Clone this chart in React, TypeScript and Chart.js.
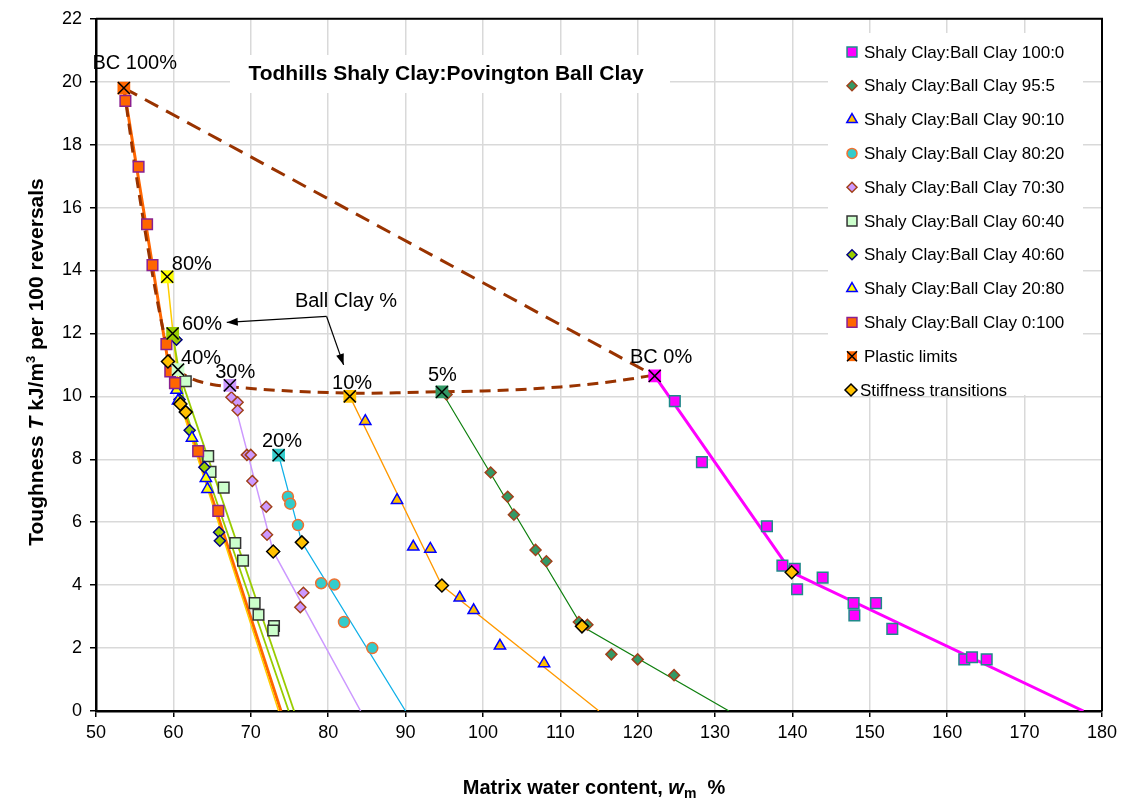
import React, { useEffect, useRef } from 'react';
import { Chart, registerables } from 'chart.js';
Chart.register(...registerables);

const FONT = '"Liberation Sans", Arial, Helvetica, sans-serif';

// ---- axes ----
const X_MIN = 50, X_MAX = 180, X_STEP = 10;
const Y_MIN = 0, Y_MAX = 22, Y_STEP = 2;

// ---- measured series (matrix water content %, toughness) ----
const sc100_0_x = [124.8, 128.3, 136.7, 138.7, 140.3, 140.6, 143.9, 147.9, 148.0, 150.8, 152.9, 162.2, 163.2, 165.1];
const sc100_0_y = [9.85, 7.91, 5.87, 4.62, 4.52, 3.87, 4.24, 3.43, 3.04, 3.43, 2.61, 1.64, 1.71, 1.64];

const sc95_5_x = [95.3, 101.0, 103.2, 104.0, 106.8, 108.2, 112.4, 113.5, 116.6, 120.0, 124.7];
const sc95_5_y = [10.06, 7.58, 6.81, 6.24, 5.12, 4.76, 2.83, 2.74, 1.80, 1.64, 1.14];

const sc90_10_x = [84.8, 88.9, 91.0, 93.2, 97.0, 98.8, 102.2, 107.9];
const sc90_10_y = [9.21, 6.70, 5.22, 5.15, 3.60, 3.20, 2.07, 1.51];

const sc80_20_x = [74.8, 75.1, 76.1, 79.1, 80.8, 82.05, 85.7];
const sc80_20_y = [6.81, 6.59, 5.91, 4.06, 4.02, 2.83, 2.00];

const sc70_30_x = [67.5, 68.3, 68.3, 69.5, 70.0, 70.2, 72.0, 72.1, 76.8, 76.4];
const sc70_30_y = [9.97, 9.81, 9.56, 8.14, 8.14, 7.31, 6.49, 5.60, 3.76, 3.30];

const sc60_40_x = [61.6, 64.5, 64.8, 66.5, 68.0, 69.0, 70.5, 71.0, 73.0, 72.9];
const sc60_40_y = [10.48, 8.10, 7.60, 7.10, 5.34, 4.78, 3.43, 3.06, 2.70, 2.56];

const sc40_60_x = [60.4, 60.8, 62.1, 64.0, 65.9, 66.0];
const sc40_60_y = [11.8, 9.9, 8.92, 7.75, 5.68, 5.41];

const sc20_80_x = [60.4, 60.6, 62.4, 64.2, 64.4];
const sc20_80_y = [10.2, 9.86, 8.68, 7.4, 7.05];

const sc0_100_x = [53.8, 55.5, 56.6, 57.3, 59.1, 59.6, 60.2, 63.2, 65.8];
const sc0_100_y = [19.39, 17.3, 15.47, 14.17, 11.66, 10.79, 10.42, 8.26, 6.36];

// plastic limits
const pl_x = [53.6, 59.2, 59.9, 60.6, 67.3, 73.6, 82.8, 94.7, 122.2];
const pl_y = [19.8, 13.8, 12.0, 10.85, 10.35, 8.13, 10.0, 10.14, 10.65];
const pl_labels = ['BC 100%', '80%', '60%', '40%', '30%', '20%', '10%', '5%', 'BC 0%'];

// stiffness transitions
const st_x = [59.3, 60.9, 61.6, 72.9, 76.6, 94.7, 112.8, 139.9];
const st_y = [11.11, 9.76, 9.50, 5.07, 5.36, 3.99, 2.69, 4.41];

// fitted lines (plastic limit -> transition -> zero toughness)
const fit100_0_x = [122.2, 139.9, 177.6]; const fit100_0_y = [10.65, 4.41, 0];
const fit95_5_x = [94.7, 112.8, 131.8]; const fit95_5_y = [10.14, 2.69, 0];
const fit90_10_x = [82.8, 94.7, 115.0]; const fit90_10_y = [10.0, 3.99, 0];
const fit80_20_x = [73.6, 76.6, 90.0]; const fit80_20_y = [8.13, 5.36, 0];
const fit70_30_x = [67.3, 72.9, 84.2]; const fit70_30_y = [10.35, 5.07, 0];
const fit60_40_x = [60.6, 75.6]; const fit60_40_y = [10.85, 0];
const fit40_60_x = [59.9, 61.6, 74.9]; const fit40_60_y = [12.0, 9.5, 0];
const fit20_80_x = [59.2, 60.9, 73.6]; const fit20_80_y = [13.8, 9.76, 0];
const fit0_100_x = [53.6, 59.3, 73.9]; const fit0_100_y = [19.8, 11.11, 0];

// plastic limit trend lines
const plLine_x = [53.6, 122.2]; const plLine_y = [19.8, 10.65];
const plCurve_x = [53.6, 55.1, 57.0, 58.6, 59.6, 60.8, 62.5, 65, 70, 75, 80, 85, 90, 95, 100, 105, 110, 115, 119, 122.2];
const plCurve_y = [19.8, 17.2, 14.3, 12.2, 11.2, 10.8, 10.55, 10.38, 10.25, 10.17, 10.12, 10.1, 10.12, 10.15, 10.17, 10.22, 10.3, 10.42, 10.55, 10.68];

const TITLE = 'Todhills Shaly Clay:Povington Ball Clay';
const LEGEND_PL = 'Plastic limits';
const LEGEND_ST = 'Stiffness transitions';
const ANNOT = 'Ball Clay %';

const zip = (xs: number[], ys: number[]) => xs.map((x, i) => ({ x, y: ys[i] }));

type Sty = { label: string; xs: number[]; ys: number[]; fx: number[]; fy: number[]; shape: string; r: number; bg: string; bd: string; line: string; lw: number };

const SERIES: Sty[] = [
  { label: 'Shaly Clay:Ball Clay 100:0', xs: sc100_0_x, ys: sc100_0_y, fx: fit100_0_x, fy: fit100_0_y, shape: 'rect', r: 7.5, bg: '#ff00ff', bd: '#1f8a8a', line: '#ff00ff', lw: 3 },
  { label: 'Shaly Clay:Ball Clay 95:5', xs: sc95_5_x, ys: sc95_5_y, fx: fit95_5_x, fy: fit95_5_y, shape: 'rectRot', r: 5.5, bg: '#339966', bd: '#a0401a', line: '#108010', lw: 1.2 },
  { label: 'Shaly Clay:Ball Clay 90:10', xs: sc90_10_x, ys: sc90_10_y, fx: fit90_10_x, fy: fit90_10_y, shape: 'triangle', r: 6.5, bg: '#ffc000', bd: '#0000ff', line: '#ff9900', lw: 1.3 },
  { label: 'Shaly Clay:Ball Clay 80:20', xs: sc80_20_x, ys: sc80_20_y, fx: fit80_20_x, fy: fit80_20_y, shape: 'circle', r: 5.5, bg: '#33cccc', bd: '#f07030', line: '#10b0e8', lw: 1.3 },
  { label: 'Shaly Clay:Ball Clay 70:30', xs: sc70_30_x, ys: sc70_30_y, fx: fit70_30_x, fy: fit70_30_y, shape: 'rectRot', r: 5.5, bg: '#cc99ff', bd: '#a0401a', line: '#cc99ff', lw: 1.5 },
  { label: 'Shaly Clay:Ball Clay 60:40', xs: sc60_40_x, ys: sc60_40_y, fx: fit60_40_x, fy: fit60_40_y, shape: 'rect', r: 7.5, bg: '#ccffcc', bd: '#333333', line: '#99cc00', lw: 1.8 },
  { label: 'Shaly Clay:Ball Clay 40:60', xs: sc40_60_x, ys: sc40_60_y, fx: fit40_60_x, fy: fit40_60_y, shape: 'rectRot', r: 5.5, bg: '#99cc00', bd: '#000080', line: '#99cc00', lw: 1.8 },
  { label: 'Shaly Clay:Ball Clay 20:80', xs: sc20_80_x, ys: sc20_80_y, fx: fit20_80_x, fy: fit20_80_y, shape: 'triangle', r: 6.5, bg: '#ffff00', bd: '#0000ff', line: '#ffcc00', lw: 1.5 },
  { label: 'Shaly Clay:Ball Clay 0:100', xs: sc0_100_x, ys: sc0_100_y, fx: fit0_100_x, fy: fit0_100_y, shape: 'rect', r: 7.5, bg: '#ff6600', bd: '#8a2090', line: '#ff6600', lw: 3 },
];

const PL_COLORS = ['#ff6600', '#ffff00', '#99cc00', '#ccffcc', '#cc99ff', '#33cccc', '#ffc000', '#339966', '#ff00ff'];

// label anchors in data units (left edge / centre, middle)
const LBL_X = [55.0, 59.8, 61.1, 61.0, 65.4, 71.45, 80.5, 92.9, 119.0];
const LBL_Y = [20.58, 14.2, 12.3, 11.2, 10.76, 8.58, 10.42, 10.67, 11.24];
const LBL_ALIGN = ['center', 'left', 'left', 'left', 'left', 'left', 'left', 'left', 'left'];

function shapePath(ctx: CanvasRenderingContext2D, shape: string, x: number, y: number, r: number) {
  ctx.beginPath();
  if (shape === 'rect') {
    const s = r * Math.SQRT1_2;
    ctx.rect(x - s, y - s, 2 * s, 2 * s);
  } else if (shape === 'rectRot') {
    ctx.moveTo(x - r, y); ctx.lineTo(x, y - r); ctx.lineTo(x + r, y); ctx.lineTo(x, y + r); ctx.closePath();
  } else if (shape === 'triangle') {
    for (let k = 0; k < 3; k++) {
      const a = k * 2 * Math.PI / 3;
      const px = x + Math.sin(a) * r, py = y - Math.cos(a) * r;
      if (k === 0) ctx.moveTo(px, py); else ctx.lineTo(px, py);
    }
    ctx.closePath();
  } else {
    ctx.arc(x, y, r, 0, Math.PI * 2);
  }
}

function drawMarker(ctx: CanvasRenderingContext2D, shape: string, x: number, y: number, r: number, bg: string, bd: string, bw: number) {
  shapePath(ctx, shape, x, y, r);
  ctx.fillStyle = bg; ctx.fill();
  if (bw > 0) { ctx.lineWidth = bw; ctx.strokeStyle = bd; ctx.stroke(); }
}

function drawRuns(ctx: CanvasRenderingContext2D, runs: { t: string; f: string; dy?: number }[], cx: number, by: number) {
  let total = 0;
  const ws = runs.map(r => { ctx.font = r.f; const w = ctx.measureText(r.t).width; total += w; return w; });
  let x = cx - total / 2;
  ctx.textAlign = 'left'; ctx.textBaseline = 'alphabetic';
  runs.forEach((r, i) => { ctx.font = r.f; ctx.fillText(r.t, x, by + (r.dy || 0)); x += ws[i]; });
}

function arrowTo(ctx: CanvasRenderingContext2D, x1: number, y1: number, x2: number, y2: number) {
  ctx.beginPath(); ctx.moveTo(x1, y1); ctx.lineTo(x2, y2); ctx.stroke();
  const a = Math.atan2(y2 - y1, x2 - x1), L = 11, W = 4;
  ctx.beginPath();
  ctx.moveTo(x2, y2);
  ctx.lineTo(x2 - L * Math.cos(a) + W * Math.sin(a), y2 - L * Math.sin(a) - W * Math.cos(a));
  ctx.lineTo(x2 - L * Math.cos(a) - W * Math.sin(a), y2 - L * Math.sin(a) + W * Math.cos(a));
  ctx.closePath(); ctx.fill();
}

const overlay = {
  id: 'overlay',
  beforeDatasetsDraw(chart: any) {
    const ctx = chart.ctx as CanvasRenderingContext2D;
    ctx.save();
    ctx.fillStyle = '#ffffff';
    ctx.fillRect(230, 55, 440, 38);   // title background
    ctx.fillRect(828, 33, 255, 362);  // legend background
    ctx.restore();
  },
  afterDatasetsDraw(chart: any) {
    const ctx = chart.ctx as CanvasRenderingContext2D;
    const xs = chart.scales.x, ys = chart.scales.y;
    const a = chart.chartArea;
    ctx.save();
    // frame top/right
    ctx.strokeStyle = '#000'; ctx.lineWidth = 2;
    ctx.beginPath(); ctx.moveTo(a.left, a.top); ctx.lineTo(a.right, a.top); ctx.lineTo(a.right, a.bottom); ctx.stroke();

    // title
    ctx.fillStyle = '#000';
    ctx.font = `bold 21px ${FONT}`; ctx.textAlign = 'center'; ctx.textBaseline = 'middle';
    ctx.fillText(TITLE, 446, 74);

    // point labels
    ctx.font = `20px ${FONT}`;
    pl_labels.forEach((t, i) => {
      ctx.textAlign = LBL_ALIGN[i] as CanvasTextAlign;
      ctx.fillText(t, xs.getPixelForValue(LBL_X[i]), ys.getPixelForValue(LBL_Y[i]));
    });
    ctx.textAlign = 'left';
    ctx.fillText(ANNOT, xs.getPixelForValue(75.7), ys.getPixelForValue(13.0));

    // arrows
    ctx.strokeStyle = '#000'; ctx.fillStyle = '#000'; ctx.lineWidth = 1.2;
    const ox = xs.getPixelForValue(79.8), oy = ys.getPixelForValue(12.54);
    arrowTo(ctx, ox, oy, xs.getPixelForValue(66.9), ys.getPixelForValue(12.35));
    arrowTo(ctx, ox, oy, xs.getPixelForValue(82.0), ys.getPixelForValue(11.0));

    // legend
    const lx = 852, tx = 864, ly0 = 52, dy = 33.8;
    ctx.font = `17px ${FONT}`; ctx.textBaseline = 'middle'; ctx.textAlign = 'left';
    SERIES.forEach((s, i) => {
      const y = ly0 + i * dy;
      drawMarker(ctx, s.shape, lx, y, s.shape === 'rect' ? 7 : s.shape === 'triangle' ? 6 : 5, s.bg, s.bd, 1.5);
      ctx.fillStyle = '#000';
      ctx.fillText(s.label, tx, y + 1);
    });
    let y = ly0 + 9 * dy;
    drawMarker(ctx, 'rect', lx, y, 7, '#ff6600', '#ff6600', 0);
    ctx.strokeStyle = '#000'; ctx.lineWidth = 1.5;
    ctx.beginPath(); ctx.moveTo(lx - 5, y - 5); ctx.lineTo(lx + 5, y + 5); ctx.moveTo(lx + 5, y - 5); ctx.lineTo(lx - 5, y + 5); ctx.stroke();
    ctx.fillStyle = '#000'; ctx.fillText(LEGEND_PL, tx, y + 1);
    y = ly0 + 10 * dy;
    drawMarker(ctx, 'rectRot', lx - 1, y, 6, '#ffc000', '#000', 1.5);
    ctx.fillStyle = '#000'; ctx.fillText(LEGEND_ST, tx - 4, y + 1);
    ctx.restore();
  },
  afterDraw(chart: any) {
    const ctx = chart.ctx as CanvasRenderingContext2D;
    ctx.save();
    ctx.fillStyle = '#000';
    const B = `bold 20px ${FONT}`, BI = `italic bold 20px ${FONT}`;
    // x title
    drawRuns(ctx, [
      { t: 'Matrix water content, ', f: B },
      { t: 'w', f: BI },
      { t: 'm', f: `bold 14px ${FONT}`, dy: 4 },
      { t: '  %', f: B },
    ], 594, 794);
    // y title
    const YB = `bold 21px ${FONT}`, YBI = `italic bold 21px ${FONT}`;
    ctx.translate(43, 362);
    ctx.rotate(-Math.PI / 2);
    drawRuns(ctx, [
      { t: 'Toughness ', f: YB },
      { t: 'T', f: YBI },
      { t: ' kJ/m', f: YB },
      { t: '3', f: `bold 13px ${FONT}`, dy: -8 },
      { t: ' per 100 reversals', f: YB },
    ], 0, 0);
    ctx.restore();
  },
};

export default function App() {
  const ref = useRef<HTMLCanvasElement | null>(null);
  useEffect(() => {
    document.body.style.margin = '0';
    document.body.style.overflow = 'hidden';
    const canvas = ref.current!;
    const datasets: any[] = [];
    datasets.push({
      label: 'PL cross', data: zip(pl_x, pl_y), showLine: false, order: 0,
      pointStyle: 'crossRot', pointRadius: 8.5, borderColor: '#000', pointBorderWidth: 1.5, backgroundColor: 'transparent',
    });
    datasets.push({
      label: 'PL square', data: zip(pl_x, pl_y), showLine: false, order: 1,
      pointStyle: 'rect', pointRadius: 9, backgroundColor: PL_COLORS, borderColor: PL_COLORS, pointBorderWidth: 0,
    });
    datasets.push({
      label: 'Stiffness transitions', data: zip(st_x, st_y), showLine: false, order: 2,
      pointStyle: 'rectRot', pointRadius: 6.5, backgroundColor: '#ffc000', borderColor: '#000', pointBorderWidth: 1.5,
    });
    SERIES.forEach((s, i) => {
      datasets.push({
        label: s.label, data: zip(s.xs, s.ys), showLine: false, order: 3 + (SERIES.length - i),
        pointStyle: s.shape, pointRadius: s.r, backgroundColor: s.bg, borderColor: s.bd, pointBorderWidth: 1.5,
      });
    });
    datasets.push({
      label: 'PL curve', data: zip(plCurve_x, plCurve_y), showLine: true, order: 20,
      borderColor: '#993300', borderWidth: 3, borderDash: [11, 7], pointRadius: 0, cubicInterpolationMode: 'monotone', fill: false,
    });
    datasets.push({
      label: 'PL line', data: zip(plLine_x, plLine_y), showLine: true, order: 21,
      borderColor: '#993300', borderWidth: 3, borderDash: [15, 9], pointRadius: 0, fill: false,
    });
    SERIES.forEach((s, i) => {
      datasets.push({
        label: s.label + ' fit', data: zip(s.fx, s.fy), showLine: true, order: 30 + i,
        borderColor: s.line, borderWidth: s.lw, pointRadius: 0, fill: false,
      });
    });

    const chart = new Chart(canvas, {
      type: 'scatter',
      data: { datasets },
      options: {
        animation: false,
        responsive: false,
        devicePixelRatio: 1,
        events: [],
        layout: { padding: { left: 0, top: 16, right: 23, bottom: 0 } },
        plugins: { legend: { display: false }, tooltip: { enabled: false }, title: { display: false } },
        scales: {
          x: {
            type: 'linear', min: X_MIN, max: X_MAX,
            ticks: { stepSize: X_STEP, color: '#000', font: { family: FONT, size: 18 }, padding: 5, maxRotation: 0 },
            grid: { color: '#d9d9d9', lineWidth: 1.5, tickColor: '#000', tickLength: 6, tickWidth: 1.5 },
            border: { color: '#000', width: 2.5 },
            afterFit: (s: any) => { s.height = 99; },
          },
          y: {
            type: 'linear', min: Y_MIN, max: Y_MAX,
            ticks: { stepSize: Y_STEP, color: '#000', font: { family: FONT, size: 18 }, padding: 8 },
            grid: { color: '#d9d9d9', lineWidth: 1.5, tickColor: '#000', tickLength: 6, tickWidth: 1.5 },
            border: { color: '#000', width: 2.5 },
            afterFit: (s: any) => { s.width = 96; },
          },
        },
      } as any,
      plugins: [overlay],
    });
    return () => chart.destroy();
  }, []);
  return (
    <div style={{ width: 1125, height: 810 }}>
      <canvas ref={ref} width={1125} height={810} style={{ display: 'block', width: 1125, height: 810 }} />
    </div>
  );
}
